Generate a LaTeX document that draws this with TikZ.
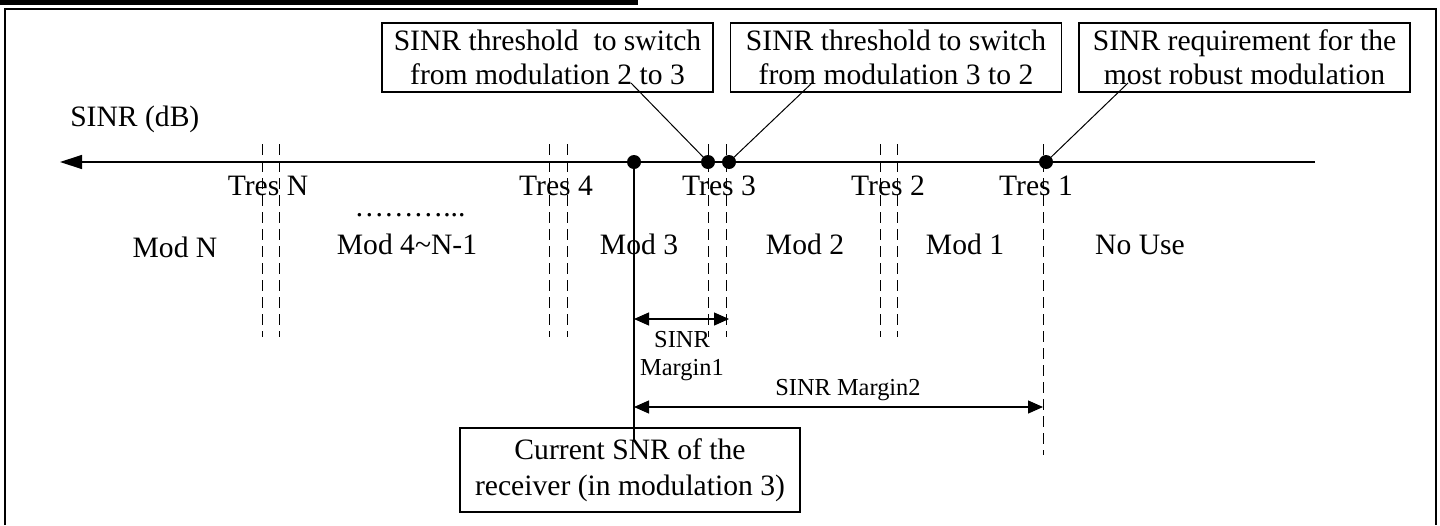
\documentclass[tikz,border=0pt]{standalone}
\usepackage{fontspec}
\setmainfont{Liberation Serif}
\usepackage{tikz}
\usetikzlibrary{arrows.meta,positioning,shapes}

\begin{document}
\begin{tikzpicture}[
            x = 0.5pt, y = -0.5pt, % one unit per pixel, y grows downwards
            > = {Triangle[length=7.5pt, width=6.5pt]}, % arrow head style
            line width = 0.6pt % line style
        ]

        \tikzstyle{every node}=[font = \fontsize{14.8}{17}\selectfont]
        \tikzstyle{notebox}=[
            draw = black,
            line width = 0.75pt,
            align = center,
            inner sep = 0pt,
            minimum width = 165.5pt,
            minimum height = 34.5pt
        ]
        \tikzstyle{blob}=[circle, fill = black, inner sep = 0pt, minimum size = 7pt]
        \tikzstyle{tres}=[line width = 0.5pt, dash pattern = on 5.5pt off 3pt]
        \tikzstyle{small}=[font = \fontsize{12.2}{14}\selectfont, align = center]

        \useasboundingbox (0,0) rectangle (1440,525);
        % Frame
        \fill[black] (0,0) rectangle (638,4.5);
        \draw[line width = 0.75pt] (5,525) -- (5,9) -- (1436,9) -- (1436,525);

        % Boxes
        \node[notebox] (b23) [at={(547.5,57.5)}] {SINR threshold~ to switch\\from modulation 2 to 3};
        \node[notebox] (b32) [at={(896,57.5)}] {SINR threshold to switch\\from modulation 3 to 2};
        \node[notebox] (b1) [at={(1244.5,57.5)}] {SINR requirement for the\\most robust modulation};
        \node[notebox, minimum width = 170pt, minimum height = 42pt,
              font = \fontsize{14.8}{18}\selectfont] (cur) [at={(630,470)}]
              {Current SNR of the\\receiver (in modulation 3)};
        \coordinate (l23) at (631,83);
        \coordinate (l32) at (812,83);
        \coordinate (l1) at (1128,83);

        % Axis
        \node[anchor = base west] (unit) [at={(63,126)}] {SINR (dB)};
        \coordinate (axr) at (1315,162);
        \coordinate (axl) at (60,162);
        \draw[-{Triangle[length=11pt, width=7pt]}, line width = 0.65pt] (axr) -- (axl);

        % Thresholds
        \foreach \x in {262,279,549,567,708,726,880,897}
            \draw[tres] (\x,144) -- (\x,337);
        \draw[tres] (1043,144) -- (1043,455);
        \node[anchor = base] (tN) [at={(268,195)}] {Tres N};
        \node[anchor = base] (t4) [at={(556,195)}] {Tres 4};
        \node[anchor = base] (t3) [at={(719,195)}] {Tres 3};
        \node[anchor = base] (t2) [at={(888,195)}] {Tres 2};
        \node[anchor = base] (t1) [at={(1036,195)}] {Tres 1};

        % Modulations
        \node[anchor = base] (mN) [at={(175,257)}] {Mod N};
        \node[anchor = base] (dots) [at={(410,216)}] {………...};
        \node[anchor = base] (m4) [at={(407,254)}] {Mod 4\char`~N-1};
        \node[anchor = base] (m3) [at={(639,254)}] {Mod 3};
        \node[anchor = base] (m2) [at={(805,254)}] {Mod 2};
        \node[anchor = base] (m1) [at={(965,254)}] {Mod 1};
        \node[anchor = base] (nu) [at={(1140,254)}] {No Use};

        % Points on the axis
        \node[blob] (pc) [at={(634,162)}] {};
        \node[blob] (p23) [at={(708,162)}] {};
        \node[blob] (p32) [at={(729,162)}] {};
        \node[blob] (p1) [at={(1046,162)}] {};
        \draw[line width = 0.5pt] (l23) -- (p23.center);
        \draw[line width = 0.5pt] (l32) -- (p32.center);
        \draw[line width = 0.5pt] (l1) -- (p1.center);

        % Margins
        \coordinate (pcend) at (634,440);
        \coordinate (m1a) at (634,319);
        \coordinate (m1b) at (729,319);
        \coordinate (m2a) at (634,407);
        \coordinate (m2b) at (1043,407);
        \draw (pc.center) -- (pcend);
        \draw[<->] (m1a) -- (m1b);
        \draw[<->] (m2a) -- (m2b);
        \node[small, anchor = base] (lm1) [at={(682,375)}] {SINR\\Margin1};
        \node[small, anchor = base] (lm2) [at={(848,395)}] {SINR Margin2};
      \end{tikzpicture}
\end{document}
